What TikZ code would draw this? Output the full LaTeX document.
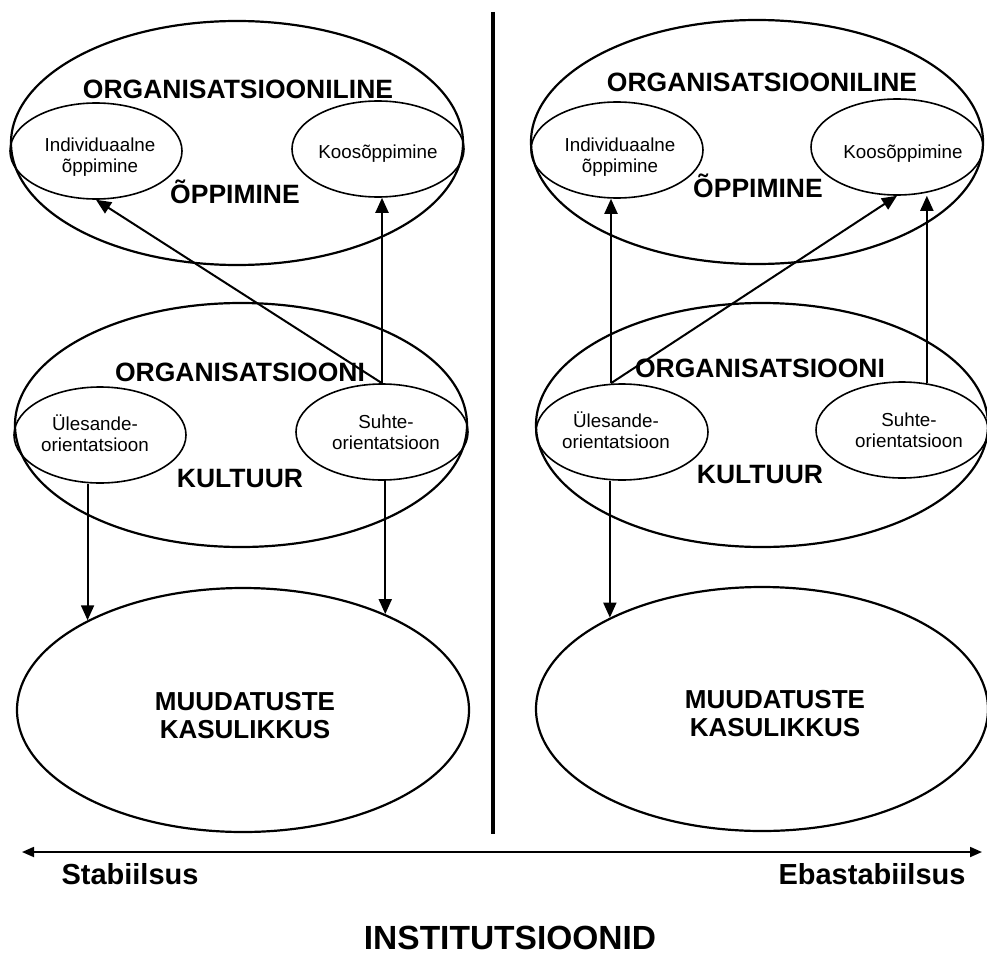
\documentclass[tikz,border=0pt]{standalone}
\usepackage{fontspec}
\setmainfont{Liberation Sans}
\usetikzlibrary{arrows.meta,shapes.geometric}

\begin{document}
\begin{tikzpicture}[x=1pt, y=-1pt, >={Triangle[length=15pt,width=13pt]},
    bigell/.style={draw, ellipse, line width=2.2pt, minimum width=452pt, minimum height=244pt, inner sep=0pt},
    smallell/.style={draw, ellipse, line width=1.6pt, minimum width=172pt, minimum height=96pt, inner sep=0pt},
    head/.style={font=\bfseries\fontsize{26.5}{29}\selectfont, inner sep=0pt, anchor=base},
    resname/.style={font=\bfseries\fontsize{26}{28}\selectfont, inner sep=0pt, align=center},
    small/.style={font=\fontsize{18.8}{21}\selectfont, inner sep=0pt, align=center},
    axlab/.style={font=\bfseries\fontsize{29}{32}\selectfont, inner sep=0pt, anchor=base},
    conn/.style={->, line width=2pt}]
    \useasboundingbox (0,0) rectangle (987,955);

    % left side
    \node[bigell] (ltop) at (237,143) {};
    \node[smallell] (lindiv) at (96,151) {};
    \node[smallell] (lkoos) at (378,149) {};
    \node[small] (lindiv-t) at (100,157) {Individuaalne\\õppimine};
    \node[small] (lkoos-t) at (378,154) {Koosõppimine};
    \node[head] (ltop-a) at (238,99) {ORGANISATSIOONILINE};
    \node[head] (ltop-b) at (235,203) {ÕPPIMINE};

    \node[bigell] (lmid) at (241,425) {};
    \node[smallell] (lules) at (100,435) {};
    \node[smallell] (lsuhte) at (382,432) {};
    \node[small] (lules-t) at (95,433) {Ülesande-\\orientatsioon};
    \node[small] (lsuhte-t) at (386,432) {Suhte-\\orientatsioon};
    \node[head] (lmid-a) at (240,381) {ORGANISATSIOONI};
    \node[head] (lmid-b) at (240,487) {KULTUUR};

    \node[bigell] (lbot) at (243,710) {};
    \node[resname] (lbot-t) at (245,716) {MUUDATUSTE\\KASULIKKUS};

    \draw[conn] (lsuhte.north) -- (lindiv.south);
    \draw[conn] (lsuhte.north) -- (lsuhte.north |- lkoos.south);
    \draw[conn] (lules.south -| lbot.150) -- (lbot.150);
    \draw[conn] (lsuhte.south -| lbot.34) -- (lbot.34);

    % right side
    \node[bigell] (rtop) at (757,142) {};
    \node[smallell] (rindiv) at (617,150) {};
    \node[smallell] (rkoos) at (897,147) {};
    \node[small] (rindiv-t) at (620,157) {Individuaalne\\õppimine};
    \node[small] (rkoos-t) at (903,154) {Koosõppimine};
    \node[head] (rtop-a) at (762,92) {ORGANISATSIOONILINE};
    \node[head] (rtop-b) at (758,197) {ÕPPIMINE};

    \node[bigell] (rmid) at (762,425) {};
    \node[smallell] (rules) at (622,432) {};
    \node[smallell] (rsuhte) at (902,430) {};
    \node[small] (rules-t) at (616,430) {Ülesande-\\orientatsioon};
    \node[small] (rsuhte-t) at (909,430) {Suhte-\\orientatsioon};
    \node[head] (rmid-a) at (760,377) {ORGANISATSIOONI};
    \node[head] (rmid-b) at (760,483) {KULTUUR};

    \node[bigell] (rbot) at (762,709) {};
    \node[resname] (rbot-t) at (775,714) {MUUDATUSTE\\KASULIKKUS};

    \coordinate (rfoot) at ([xshift=-11pt]rules.north);
    \draw[conn] (rfoot) -- (rfoot |- rindiv.south);
    \draw[conn] (rfoot) -- (rkoos.south);
    \draw[conn] (rsuhte.62) -- (rsuhte.62 |- rkoos.south);
    \draw[conn] (rules.south -| rbot.149) -- (rbot.149);

    % divider and axis
    \draw[line width=4pt] (493,12) -- (493,834);
    \coordinate (axl) at (22,852);
    \coordinate (axr) at (982,852);
    \draw[{Triangle[length=12pt,width=10pt]}-{Triangle[length=12pt,width=10pt]}, line width=1.8pt] (axl) -- (axr);
    \node[axlab] (stab) at (130,884) {Stabiilsus};
    \node[axlab] (ebastab) at (872,884) {Ebastabiilsus};
    \node[axlab, font=\bfseries\fontsize{33.5}{36}\selectfont] (inst) at (510,949) {INSTITUTSIOONID};
\end{tikzpicture}
\end{document}
